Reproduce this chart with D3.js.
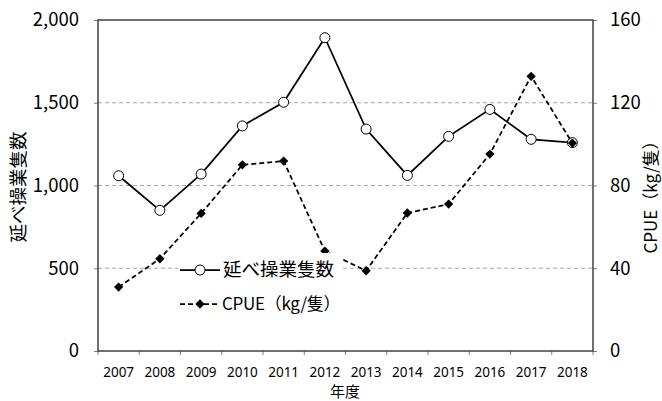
<!DOCTYPE html>
<html><head><meta charset="utf-8">
<script src="https://cdn.jsdelivr.net/npm/d3@7"></script>
<style>
body{margin:0;background:#fff;}
text{font-family:"Noto Sans CJK JP","Noto Sans",sans-serif;fill:#000;}
</style></head>
<body><svg id="c" width="662" height="401"></svg>
<script>
const years = ["2007","2008","2009","2010","2011","2012","2013","2014","2015","2016","2017","2018"];
const boats = [1059, 850, 1069, 1360, 1503, 1893, 1341, 1061, 1297, 1460, 1279, 1259];
const cpue = [30.9, 44.6, 66.5, 90.0, 91.8, 48.3, 38.8, 66.7, 71.0, 95.2, 132.8, 100.5];
const leftTicks = [0, 500, 1000, 1500, 2000];
const rightTicks = [0, 40, 80, 120, 160];
const seriesNames = ["延べ操業隻数", "CPUE（kg/隻）"];

const svg = d3.select("#c");
const L = 98, R = 593, T = 20, B = 351;
const x = d3.scaleBand().domain(years).range([L, R]);
const yL = d3.scaleLinear().domain([0, 2000]).range([B, T]);
const yR = d3.scaleLinear().domain([0, 160]).range([B, T]);
const cx = d => x(d) + x.bandwidth() / 2;
const FONT = '"Noto Sans CJK JP","Noto Sans",sans-serif';
const LATIN = '"Noto Sans","DejaVu Sans",sans-serif';

// gridlines
svg.append("g").selectAll("line").data(leftTicks.filter(t => t > 0 && t < 2000)).join("line")
  .attr("x1", L).attr("x2", R).attr("y1", d => yL(d)).attr("y2", d => yL(d))
  .attr("stroke", "#a6a6a6").attr("stroke-width", 1).attr("stroke-dasharray", "4,3");

// axes
const axL = svg.append("g").attr("transform", `translate(${L},0)`)
  .call(d3.axisLeft(yL).tickValues(leftTicks).tickSize(4).tickPadding(15).tickFormat(d3.format(",")));
const axR = svg.append("g").attr("transform", `translate(${R},0)`)
  .call(d3.axisRight(yR).tickValues(rightTicks).tickSize(4).tickPadding(13));
const axB = svg.append("g").attr("transform", `translate(0,${B})`)
  .call(d3.axisBottom(x).tickSize(0).tickPadding(16));
[axL, axR, axB].forEach(a => a.attr("font-family", FONT));
[axL, axR].forEach(a => {
  a.selectAll("text").style("font-size", "18.5px").style("font-family", FONT);
  a.selectAll("line").attr("stroke", "#7f7f7f");
  a.select(".domain").remove();
});
axB.select(".domain").remove();
axB.selectAll("text").style("font-size", "13.5px").style("font-family", LATIN);
// category boundary ticks on x axis
svg.append("g").selectAll("line").data(years.concat(["end"])).join("line")
  .attr("x1", (d, i) => i < years.length ? x(d) : R)
  .attr("x2", (d, i) => i < years.length ? x(d) : R)
  .attr("y1", B).attr("y2", B + 4).attr("stroke", "#7f7f7f");

// frame
svg.append("rect").attr("x", L).attr("y", T).attr("width", R - L).attr("height", B - T)
  .attr("fill", "none").attr("stroke", "#404040").attr("stroke-width", 1.5);

// series 1: boats
const line1 = d3.line().x((d, i) => cx(years[i])).y(d => yL(d));
svg.append("path").datum(boats).attr("d", line1).attr("fill", "none")
  .attr("stroke", "#000").attr("stroke-width", 1.75);
svg.append("g").selectAll("circle").data(boats).join("circle")
  .attr("cx", (d, i) => cx(years[i])).attr("cy", d => yL(d)).attr("r", 5)
  .attr("fill", "#fff").attr("stroke", "#000").attr("stroke-width", 1);

// series 2: cpue
const line2 = d3.line().x((d, i) => cx(years[i])).y(d => yR(d));
svg.append("path").datum(cpue).attr("d", line2).attr("fill", "none")
  .attr("stroke", "#000").attr("stroke-width", 1.75).attr("stroke-dasharray", "5,3");
const diamond = d3.symbol().type(d3.symbolDiamond2).size(55);
svg.append("g").selectAll("path").data(cpue).join("path")
  .attr("transform", (d, i) => `translate(${cx(years[i])},${yR(d)})`)
  .attr("d", diamond).attr("fill", "#000");

// legend
const lg = svg.append("g");
lg.append("rect").attr("x", 178).attr("y", 253).attr("width", 164).attr("height", 62).attr("fill", "#fff");
lg.append("line").attr("x1", 180).attr("x2", 220).attr("y1", 270).attr("y2", 270)
  .attr("stroke", "#000").attr("stroke-width", 1.75);
lg.append("circle").attr("cx", 200).attr("cy", 270).attr("r", 5).attr("fill", "#fff").attr("stroke", "#000");
lg.append("text").attr("x", 223).attr("y", 270).attr("dy", "0.35em").style("font-size", "18.5px").text(seriesNames[0]);
lg.append("line").attr("x1", 180).attr("x2", 220).attr("y1", 304).attr("y2", 304)
  .attr("stroke", "#000").attr("stroke-width", 1.75).attr("stroke-dasharray", "5,3");
lg.append("path").attr("transform", "translate(200,304)").attr("d", diamond).attr("fill", "#000");
lg.append("text").attr("x", 222).attr("y", 304).attr("dy", "0.35em").style("font-size", "17px")
  .attr("letter-spacing", "-0.3px").text(seriesNames[1]);

// axis titles
svg.append("text").attr("transform", "translate(19,187) rotate(-90)").attr("text-anchor", "middle")
  .attr("dy", "0.35em").style("font-size", "18.5px").text(seriesNames[0]);
svg.append("text").attr("transform", "translate(651,193) rotate(-90)").attr("text-anchor", "middle")
  .attr("dy", "0.35em").style("font-size", "17px").text(seriesNames[1]);
svg.append("text").attr("x", 345).attr("y", 397).attr("text-anchor", "middle")
  .style("font-size", "15px").text("年度");
</script></body></html>
